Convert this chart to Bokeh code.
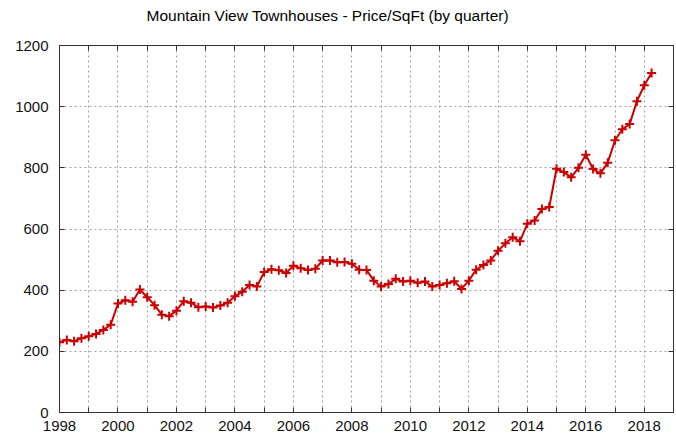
from bokeh.plotting import figure
from bokeh.layouts import column
from bokeh.models import FixedTicker, LinearAxis, Range1d
from bokeh.embed import file_html
from bokeh.resources import INLINE

title_text = "Mountain View Townhouses - Price/SqFt (by quarter)"

quarters = [
    1998.00, 1998.25, 1998.50, 1998.75, 1999.00, 1999.25, 1999.50, 1999.75,
    2000.00, 2000.25, 2000.50, 2000.75, 2001.00, 2001.25, 2001.50, 2001.75,
    2002.00, 2002.25, 2002.50, 2002.75, 2003.00, 2003.25, 2003.50, 2003.75,
    2004.00, 2004.25, 2004.50, 2004.75, 2005.00, 2005.25, 2005.50, 2005.75,
    2006.00, 2006.25, 2006.50, 2006.75, 2007.00, 2007.25, 2007.50, 2007.75,
    2008.00, 2008.25, 2008.50, 2008.75, 2009.00, 2009.25, 2009.50, 2009.75,
    2010.00, 2010.25, 2010.50, 2010.75, 2011.00, 2011.25, 2011.50, 2011.75,
    2012.00, 2012.25, 2012.50, 2012.75, 2013.00, 2013.25, 2013.50, 2013.75,
    2014.00, 2014.25, 2014.50, 2014.75, 2015.00, 2015.25, 2015.50, 2015.75,
    2016.00, 2016.25, 2016.50, 2016.75, 2017.00, 2017.25, 2017.50, 2017.75,
    2018.00, 2018.25,
]

price_per_sqft = [
    230, 237, 233, 243, 249, 257, 270, 287,
    356, 367, 362, 402, 377, 351, 320, 315,
    333, 364, 359, 344, 347, 343, 350, 359,
    380, 395, 417, 412, 459, 468, 465, 456,
    480, 472, 466, 470, 497, 497, 491, 492,
    486, 467, 466, 431, 412, 420, 437, 428,
    431, 424, 428, 412, 417, 423, 429, 404,
    431, 467, 482, 497, 529, 553, 573, 560,
    617, 628, 665, 672, 797, 786, 769, 800,
    843, 796, 782, 817, 890, 926, 943, 1018,
    1070, 1110,
]

x_labeled_ticks = [1998, 2000, 2002, 2004, 2006, 2008, 2010, 2012, 2014, 2016, 2018]
x_unlabeled_ticks = [1999, 2001, 2003, 2005, 2007, 2009, 2011, 2013, 2015, 2017, 2019]
x_all_ticks = sorted(x_labeled_ticks + x_unlabeled_ticks)
y_ticks = [0, 200, 400, 600, 800, 1000, 1200]

FONT = "Liberation Sans"
LINE_COLOR = "#cc0000"
AXIS_COLOR = "#333333"
GRID_COLOR = "#a0a0a0"

# --- title strip (separate figure so the title can sit well above the frame) ---
tfig = figure(width=675, height=35, output_backend="svg", toolbar_location=None,
              x_range=Range1d(0, 1), y_range=Range1d(0, 1),
              min_border_left=59, min_border_right=2, min_border_top=0,
              min_border_bottom=0, x_axis_location=None, y_axis_location=None)
tfig.xgrid.visible = False
tfig.ygrid.visible = False
tfig.outline_line_color = None
tfig.border_fill_color = "white"
tfig.background_fill_color = "white"
tfig.title.text = title_text
tfig.title.text_font = FONT
tfig.title.text_font_size = "15.5px"
tfig.title.text_font_style = "normal"
tfig.title.text_color = "#000000"
tfig.title.align = "left"
tfig.title.offset = 87
tfig.title.standoff = 8

# --- main chart ---
p = figure(width=675, height=405, output_backend="svg", toolbar_location=None,
           x_range=Range1d(1998, 2019), y_range=Range1d(0, 1200),
           min_border_left=59, min_border_right=2, min_border_top=10,
           min_border_bottom=28, x_axis_location=None, y_axis_location=None)

p.outline_line_color = AXIS_COLOR
p.outline_line_width = 1
p.background_fill_color = "white"
p.border_fill_color = "white"


def style(ax):
    ax.axis_line_color = AXIS_COLOR
    ax.major_tick_in = 5
    ax.major_tick_out = 0
    ax.minor_tick_in = 5
    ax.minor_tick_out = 0
    ax.major_tick_line_color = AXIS_COLOR
    ax.minor_tick_line_color = AXIS_COLOR
    ax.major_label_text_font = FONT
    ax.major_label_text_font_size = "15px"
    ax.major_label_text_color = "#111111"


bx = LinearAxis(ticker=FixedTicker(ticks=x_labeled_ticks, minor_ticks=x_unlabeled_ticks))
style(bx)
bx.major_label_standoff = 8
p.add_layout(bx, "below")

tx = LinearAxis(ticker=FixedTicker(ticks=[], minor_ticks=x_all_ticks))
style(tx)
p.add_layout(tx, "above")

ly = LinearAxis(ticker=FixedTicker(ticks=y_ticks))
style(ly)
ly.major_label_standoff = 11
p.add_layout(ly, "left")

ry = LinearAxis(ticker=FixedTicker(ticks=[], minor_ticks=y_ticks))
style(ry)
p.add_layout(ry, "right")

p.xgrid.ticker = FixedTicker(ticks=x_all_ticks)
p.ygrid.ticker = FixedTicker(ticks=y_ticks)
for g in (p.xgrid, p.ygrid):
    g.grid_line_color = GRID_COLOR
    g.grid_line_dash = "2 3"
    g.grid_line_width = 1

p.line(quarters, price_per_sqft, line_color=LINE_COLOR, line_width=2)
p.scatter(quarters, price_per_sqft, marker="cross", size=9, line_color=LINE_COLOR,
          line_width=2)

layout = column(tfig, p, spacing=0)

open("out.html", "w").write(file_html(layout, INLINE))
